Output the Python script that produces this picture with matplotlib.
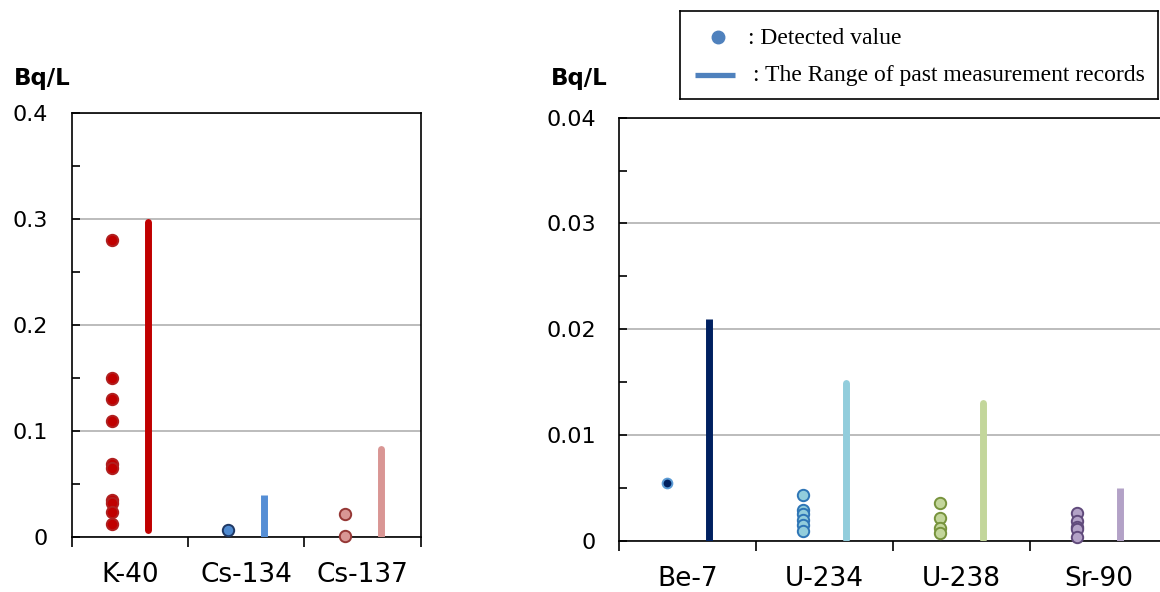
import numpy as np
import matplotlib
matplotlib.use("Agg")
import matplotlib.pyplot as plt
from matplotlib.ticker import MultipleLocator, FixedLocator, NullFormatter

# ---- data (Bq/L) ----
left_nuclides = ["K-40", "Cs-134", "Cs-137"]
left_detected = [
    [0.280, 0.150, 0.130, 0.110, 0.0687, 0.0656, 0.035, 0.0326, 0.024, 0.013],
    [0.0066],
    [0.022, 0.0013],
]
left_range_low = [0.007, 0.0, 0.001]
left_range_high = [0.297, 0.040, 0.083]

right_nuclides = ["Be-7", "U-234", "U-238", "Sr-90"]
right_detected = [
    [0.0055],
    [0.00433, 0.00294, 0.0025, 0.0020, 0.00145, 0.00095],
    [0.00357, 0.00215, 0.00123, 0.00076],
    [0.0026, 0.0019, 0.00126, 0.00107, 0.00035],
]
right_range_low = [0.0, 0.0002, 0.0002, 0.0]
right_range_high = [0.021, 0.0149, 0.0130, 0.0050]

# ---- styles ----
left_face = ["#c00000", "#4f8ad0", "#d99694"]
left_edge = ["#b02020", "#1f3864", "#953735"]
left_bar = ["#c00000", "#558ed5", "#d99694"]
left_cap = ["round", "butt", "round"]
left_msize = [8.2, 8.2, 8.2]

right_face = ["#002060", "#92cddc", "#c3d69b", "#b3a2c7"]
right_edge = ["#5b9bd5", "#2e75b6", "#77933c", "#604a7b"]
right_bar = ["#002060", "#92cddc", "#c3d69b", "#b3a2c7"]
right_cap = ["butt", "round", "round", "butt"]
right_msize = [7.0, 8.2, 8.2, 8.2]

OFFSET = 0.155
W, H = 1160, 592

fig = plt.figure(figsize=(W / 100, H / 100), dpi=100)


def frac(x0, y0, x1, y1):
    return [x0 / W, 1 - y1 / H, (x1 - x0) / W, (y1 - y0) / H]


def draw_panel(ax, names, detected, lo, hi, face, edge, barc, caps, msize, ymax, major, minor, fmt):
    n = len(names)
    for i in range(n):
        vals = detected[i]
        ax.plot([i - OFFSET] * len(vals), vals, "o", ms=msize[i],
                mfc=face[i], mec=edge[i], mew=1.4, zorder=4, clip_on=False)
        ax.plot([i + OFFSET, i + OFFSET], [lo[i], hi[i]], color=barc[i], lw=5,
                solid_capstyle=caps[i], zorder=3)
    ax.set_xlim(-0.5, n - 0.5)
    ax.set_ylim(0, ymax)
    ax.yaxis.set_major_locator(MultipleLocator(major))
    ax.yaxis.set_minor_locator(MultipleLocator(minor))
    ax.set_yticklabels([fmt(v) for v in ax.get_yticks()])
    ax.grid(axis="y", which="major", color="#b0b0b0", lw=1.2, zorder=1)
    ax.tick_params(axis="y", which="both", direction="in", length=6, width=1.2,
                   labelsize=16, pad=17)
    ax.xaxis.set_major_locator(FixedLocator(np.arange(-0.5, n, 1.0)))
    ax.xaxis.set_major_formatter(NullFormatter())
    ax.xaxis.set_minor_locator(FixedLocator(np.arange(n)))
    ax.set_xticklabels(names, minor=True)
    ax.tick_params(axis="x", which="major", direction="out", length=7, width=1.2)
    ax.tick_params(axis="x", which="minor", length=0, labelsize=19, pad=18)
    for s in ax.spines.values():
        s.set_color("black")
        s.set_linewidth(1.2)
    ax.set_axisbelow(True)


ax1 = fig.add_axes(frac(71.7, 112.7, 420.7, 537.3))
draw_panel(ax1, left_nuclides, left_detected, left_range_low, left_range_high,
           left_face, left_edge, left_bar, left_cap, left_msize,
           0.4, 0.1, 0.05, lambda v: "0" if v == 0 else f"{v:.1f}")

ax2 = fig.add_axes(frac(619.3, 117.7, 1167, 540.7))
draw_panel(ax2, right_nuclides, right_detected, right_range_low, right_range_high,
           right_face, right_edge, right_bar, right_cap, right_msize,
           0.04, 0.01, 0.005, lambda v: "0" if v == 0 else f"{v:.2f}")

fig.text(14 / W, 1 - 78 / H, "Bq/L", fontsize=16.5, fontweight="bold", va="center", ha="left")
fig.text(551 / W, 1 - 78 / H, "Bq/L", fontsize=16.5, fontweight="bold", va="center", ha="left")

# ---- legend box ----
lg = fig.add_axes(frac(680, 11, 1158, 99))
lg.set_xlim(680, 1158)
lg.set_ylim(99, 11)
lg.set_xticks([])
lg.set_yticks([])
for s in lg.spines.values():
    s.set_color("black")
    s.set_linewidth(1.2)
lg.plot([718], [37], "o", ms=9, mfc="#4f81bd", mec="#4f81bd")
lg.plot([695, 735], [75, 75], color="#4f81bd", lw=3.8, solid_capstyle="butt")
lg.text(748, 38, ": Detected value", fontsize=17, family="Liberation Serif", va="center")
lg.text(753, 75, ": The Range of past measurement records", fontsize=17,
        family="Liberation Serif", va="center")

fig.savefig("out.png", dpi=100)
